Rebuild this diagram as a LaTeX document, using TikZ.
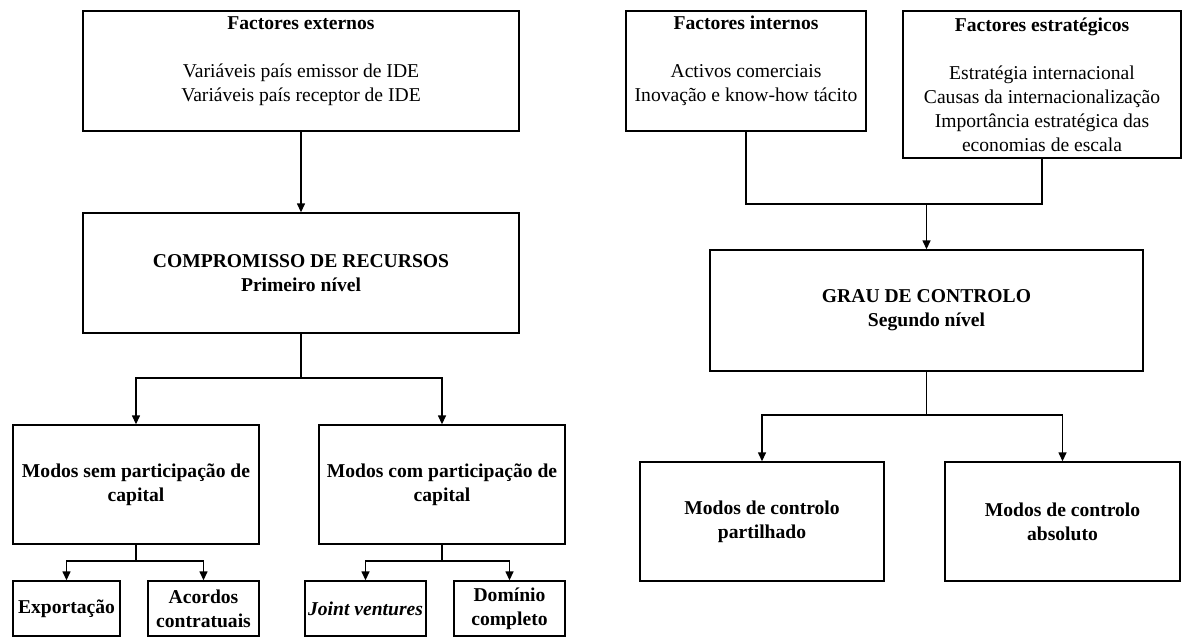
\documentclass[tikz,border=0pt]{standalone}
\usepackage{fontspec}
\setmainfont{Liberation Serif}
\usetikzlibrary{arrows.meta}
\tikzset{
  box/.style={draw, line width=.7pt, inner sep=0pt, align=center,
    font=\fontsize{9.8}{12}\selectfont},
  link/.style={line width=.7pt},
  arr/.style={line width=.7pt, -{Triangle[length=4.5pt,width=4pt]}},
}
\begin{document}
\begin{tikzpicture}[x=.5pt,y=-.5pt]
\useasboundingbox (0,0) rectangle (1182,639);
% primeiro nivel
\node[box, minimum width=218pt, minimum height=60pt] (ext) at (301,71)
  {\textbf{Factores externos}\\[12pt] Variáveis país emissor de IDE\\ Variáveis país receptor de IDE\\ \mbox{}};
\node[box, minimum width=218pt, minimum height=60pt] (comp) at (301,273)
  {\textbf{COMPROMISSO DE RECURSOS}\\ \textbf{Primeiro nível}};
\node[box, minimum width=123pt, minimum height=59.5pt] (sem) at (136,484.5)
  {\textbf{Modos sem participação de}\\ \textbf{capital}};
\node[box, minimum width=123pt, minimum height=59.5pt] (com) at (442,484.5)
  {\textbf{Modos com participação de}\\ \textbf{capital}};
\node[box, minimum width=53.5pt, minimum height=27.5pt] (exp) at (66.5,608.5) {\textbf{Exportação}};
\node[box, minimum width=55.5pt, minimum height=27.5pt] (aco) at (203.5,608.5) {\textbf{Acordos}\\ \textbf{contratuais}};
\node[box, minimum width=60.5pt, minimum height=27.5pt] (jv) at (365.5,608.5) {\textbf{\textit{Joint ventures}}};
\node[box, minimum width=55.5pt, minimum height=27.5pt] (dom) at (509.5,608.5) {\textbf{Domínio}\\ \textbf{completo}};
%
\coordinate (compfork) at (301,378);
\coordinate (semfork) at (136,561);
\coordinate (comfork) at (442,561);
\draw[arr] (ext) -- (comp);
\draw[link] (comp) -- (compfork);
\draw[arr] (compfork) -| (sem);
\draw[arr] (compfork) -| (com);
\draw[link] (sem) -- (semfork);
\draw[arr] (semfork) -| (exp);
\draw[arr] (semfork) -| (aco);
\draw[link] (com) -- (comfork);
\draw[arr] (comfork) -| (jv);
\draw[arr] (comfork) -| (dom);
% segundo nivel
\node[box, minimum width=120pt, minimum height=60pt] (int) at (746,71)
  {\textbf{Factores internos}\\[12pt] Activos comerciais\\ Inovação e know-how tácito\\ \mbox{}};
\node[box, minimum width=139pt, minimum height=73.5pt] (est) at (1042,84.5)
  {\textbf{Factores estratégicos}\\[12pt] Estratégia internacional\\ Causas da internacionalização\\ Importância estratégica das\\ economias de escala};
\node[box, minimum width=216.5pt, minimum height=60.5pt] (grau) at (926.5,310.5)
  {\textbf{GRAU DE CONTROLO}\\ \textbf{Segundo nível}};
\node[box, minimum width=122pt, minimum height=59.5pt] (par) at (762,521.5)
  {\textbf{Modos de controlo}\\ \textbf{partilhado}};
\node[box, minimum width=117.5pt, minimum height=59.5pt] (abs) at (1062.5,521.5)
  {\textbf{Modos de controlo}\\ \textbf{absoluto}};
%
\coordinate (join) at (926.5,204);
\coordinate (graufork) at (926.5,415);
\draw[link] (int) |- (join) -| (est);
\draw[arr] (join) -- (grau);
\draw[link] (grau) -- (graufork);
\draw[arr] (graufork) -| (par);
\draw[arr] (graufork) -| (abs);
\end{tikzpicture}
\end{document}
